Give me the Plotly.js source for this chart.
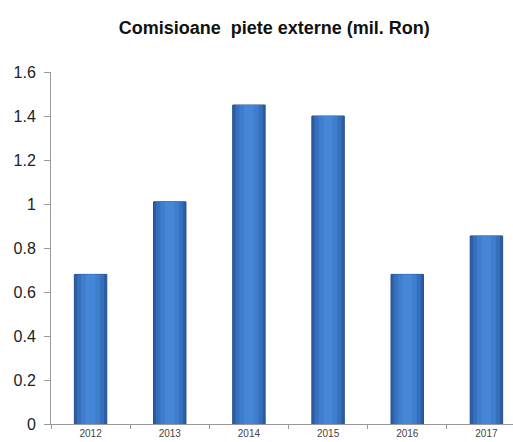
<!DOCTYPE html>
<html><head><meta charset="utf-8">
<script src="https://cdn.plot.ly/plotly-3.0.1.min.js"></script>
<style>html,body{margin:0;padding:0;overflow:hidden;background:#fff;width:513px;height:442px}#c{width:540px;height:442px}</style>
</head><body><div id="c"></div>
<script>
const years = ['2012','2013','2014','2015','2016','2017'];
const values = [0.68, 1.01, 1.45, 1.40, 0.68, 0.855];

const bands = [
  {w: 0.41, c: '#2c5ea6', lc: '#23508f'},
  {w: 0.34, c: '#3670bd', lc: null},
  {w: 0.24, c: '#3e7ecd', lc: null},
  {w: 0.12, c: '#4586d6', lc: null}
];
const traces = bands.map(b => ({
  type: 'bar', x: years, y: values, width: b.w,
  marker: {color: b.c, line: {color: b.lc || b.c, width: b.lc ? 1 : 0}},
  hoverinfo: 'none'
}));

Plotly.newPlot('c', traces, {
  width: 540, height: 442,
  barmode: 'overlay',
  margin: {l: 51, r: 14, t: 72, b: 18},
  paper_bgcolor: '#fff', plot_bgcolor: '#fff',
  title: {text: '<b>Comisioane  piete externe (mil. Ron)</b>', x: 0.508, xanchor: 'center', y: 0.937, yanchor: 'middle',
          font: {family: 'Liberation Sans, Arial, sans-serif', size: 18, color: '#111'}},
  showlegend: false,
  xaxis: {
    type: 'category', tickson: 'boundaries', ticks: 'outside', ticklen: 4, tickcolor: '#999',
    showline: true, linecolor: '#999', linewidth: 1, showgrid: false, zeroline: false,
    ticklabelstandoff: 0,
    tickfont: {family: 'Liberation Sans, Arial, sans-serif', size: 10, color: '#444'}
  },
  yaxis: {
    range: [0, 1.6], tickvals: [0,0.2,0.4,0.6,0.8,1,1.2,1.4,1.6], ticktext: ['0','0.2','0.4','0.6','0.8','1','1.2','1.4','1.6'],
    ticks: 'outside', ticklen: 6, tickcolor: '#999',
    showline: true, linecolor: '#999', linewidth: 1, showgrid: false, zeroline: false,
    ticklabelstandoff: 5,
    tickfont: {family: 'Liberation Sans, Arial, sans-serif', size: 16, color: '#222'}
  }
}, {staticPlot: true, displayModeBar: false});
</script></body></html>
